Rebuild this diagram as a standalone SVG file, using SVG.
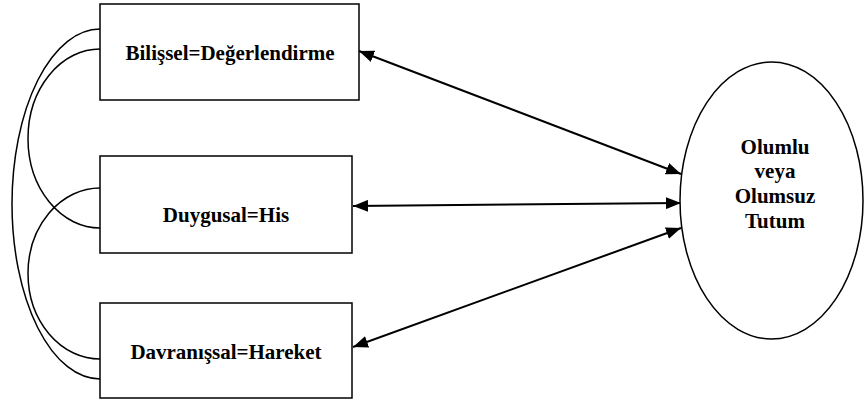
<svg xmlns="http://www.w3.org/2000/svg" width="866" height="404" viewBox="0 0 866 404">
  <style>
    .box { fill: #ffffff; stroke: #000000; stroke-width: 1.5; }
    .link { fill: none; stroke: #000000; stroke-width: 1.5; }
    .arrow { fill: none; stroke: #000000; stroke-width: 2; marker-start: url(#head); marker-end: url(#head); }
    .label { font-family: 'Liberation Serif', 'DejaVu Serif', serif; font-weight: bold; font-size: 21px; fill: #000000; text-anchor: middle; }
  </style>
  <defs>
    <marker id="head" markerUnits="userSpaceOnUse" markerWidth="16" markerHeight="12" refX="15" refY="6" orient="auto-start-reverse">
      <path d="M0,0 L15,6 L0,12 Z" fill="#000000"/>
    </marker>
  </defs>
  <rect width="866" height="404" fill="#ffffff"/>

  <!-- correlation arcs between the three components, and links to the attitude -->
  <g id="connectors">
    <path class="link" d="M100,29 A88,175 0 0,0 100,379"/>
    <path class="link" d="M100,49 A72,89.5 0 0,0 100,228"/>
    <path class="link" d="M100,188 A72,85.5 0 0,0 100,359"/>
    <line class="arrow" x1="359" y1="51" x2="681" y2="174"/>
    <line class="arrow" x1="353" y1="206" x2="681" y2="203"/>
    <line class="arrow" x1="353" y1="347" x2="681" y2="228"/>
  </g>

  <g id="bilissel">
    <rect class="box" x="100" y="4" width="259" height="96"/>
    <text class="label" x="230" y="60" font-family="Liberation Serif, serif">Bilişsel=Değerlendirme</text>
  </g>

  <g id="duygusal">
    <rect class="box" x="100" y="156" width="252" height="97"/>
    <text class="label" x="226" y="222" font-family="Liberation Serif, serif">Duygusal=His</text>
  </g>

  <g id="davranissal">
    <rect class="box" x="100" y="303" width="252" height="95"/>
    <text class="label" x="226" y="359" font-family="Liberation Serif, serif">Davranışsal=Hareket</text>
  </g>

  <g id="tutum">
    <ellipse class="box" cx="771.5" cy="200.5" rx="91.5" ry="138.5"/>
    <text class="label" x="775" y="154" font-family="Liberation Serif, serif">Olumlu</text>
    <text class="label" x="775" y="178" font-family="Liberation Serif, serif">veya</text>
    <text class="label" x="775" y="203" font-family="Liberation Serif, serif">Olumsuz</text>
    <text class="label" x="775" y="228" font-family="Liberation Serif, serif">Tutum</text>
  </g>
</svg>
